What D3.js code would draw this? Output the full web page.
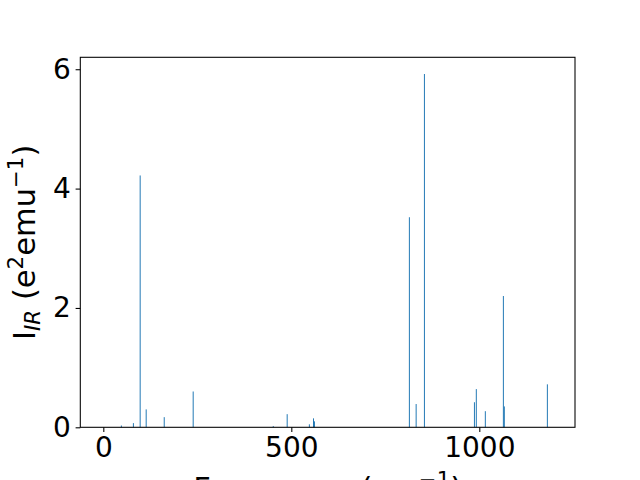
<!DOCTYPE html>
<html><head><meta charset="utf-8">
<script src="https://cdn.jsdelivr.net/npm/d3@7"></script>
<style>body{margin:0;background:#fff}svg{display:block}text{font-family:"DejaVu Sans";fill:#000}</style>
</head><body>
<svg id="c" width="640" height="480"></svg>
<script>
const frequencies = [48, 80, 98, 114, 162, 239, 452, 489, 548, 559, 561.5, 814, 832, 854, 987, 992, 1016, 1064, 1066.5, 1181];
const intensities = [0.03, 0.07, 4.22, 0.30, 0.17, 0.60, 0.02, 0.22, 0.05, 0.15, 0.10, 3.52, 0.39, 5.92, 0.42, 0.64, 0.27, 2.20, 0.35, 0.72];
const xTicks = [0, 500, 1000];
const yTicks = [0, 2, 4, 6];

const svg = d3.select("#c");
const L = 80.3, R = 575, T = 57.3, B = 427.3;
const x = d3.scaleLinear().domain([-61.2, 1254.5]).range([L, R]);
const y = d3.scaleLinear().domain([0, 6.2]).range([B, T]);
const bw = 2.6;

svg.append("g").selectAll("rect").data(frequencies).join("rect")
  .attr("x", (d) => x(d - bw/2))
  .attr("width", x(bw) - x(0))
  .attr("y", (d, i) => y(intensities[i]))
  .attr("height", (d, i) => y(0) - y(intensities[i]))
  .attr("fill", "#1f77b4");

const fs = 28, lfs = 30.5;
const xa = svg.append("g").attr("transform", `translate(0,${B})`)
  .call(d3.axisBottom(x).tickValues(xTicks).tickSize(4.7).tickPadding(4.7).tickFormat(d3.format("d")));
const ya = svg.append("g").attr("transform", `translate(${L},0)`)
  .call(d3.axisLeft(y).tickValues(yTicks).tickSize(4.7).tickPadding(4.7).tickFormat(d3.format("d")));
[xa, ya].forEach(a => {
  a.select(".domain").remove();
  a.selectAll("text").attr("font-size", fs).attr("font-family", "DejaVu Sans").attr("fill", "#000");
  a.selectAll("line").attr("stroke", "#000").attr("stroke-width", 1.07);
});

svg.append("rect").attr("x", L).attr("y", T).attr("width", R - L).attr("height", B - T)
  .attr("fill", "none").attr("stroke", "#000").attr("stroke-width", 1.07);

// x label
const xl = svg.append("text").attr("x", (L + R) / 2).attr("y", 499).attr("text-anchor", "middle").attr("font-size", lfs);
xl.append("tspan").text("Frequency (cm");
xl.append("tspan").attr("font-size", lfs * 0.7).attr("dy", -12).text("−1");
xl.append("tspan").attr("dy", 12).text(")");

// y label
const yl = svg.append("text").attr("transform", `translate(35,${(T + B) / 2}) rotate(-90)`)
  .attr("text-anchor", "middle").attr("font-size", lfs);
yl.append("tspan").text("I");
yl.append("tspan").attr("font-size", lfs * 0.7).attr("font-style", "italic").attr("dy", 5).text("IR");
yl.append("tspan").attr("dy", -5).text(" (e");
yl.append("tspan").attr("font-size", lfs * 0.7).attr("dy", -12).text("2");
yl.append("tspan").attr("dy", 12).text("emu");
yl.append("tspan").attr("font-size", lfs * 0.7).attr("dy", -12).text("−1");
yl.append("tspan").attr("dy", 12).text(")");
</script>
</body></html>
